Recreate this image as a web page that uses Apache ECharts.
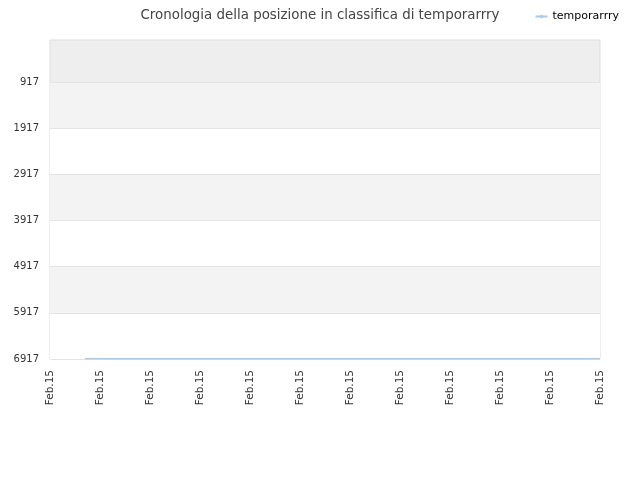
<!DOCTYPE html>
<html lang="it">
<head>
    <meta charset="utf-8">
    <title>ECharts</title>
    <script src="https://cdn.jsdelivr.net/npm/echarts@6/dist/echarts.min.js"></script>
</head>
<body style="margin:0">
<div id="main" style="width: 640px;height:480px;"></div>
<script type="text/javascript">
    // posizioni in classifica (asse y invertito)
    var yTicks = [917, 1917, 2917, 3917, 4917, 5917, 6917];
    // giorni sull'asse x
    var xTicks = [0, 1, 2, 3, 4, 5, 6, 7, 8, 9, 10, 11];
    var xLabel = 'Feb.15';
    var dayPos = [0.7, 1, 2, 3, 4, 5, 6, 7, 8, 9, 10, 11];
    var rank = [6912, 6912, 6912, 6912, 6912, 6912, 6912, 6912, 6912, 6912, 6912, 6912];

    var points = [];
    for (var i = 0; i < dayPos.length; i++) {
        points.push([dayPos[i], rank[i]]);
    }

    var myChart = echarts.init(document.getElementById('main'));
    var option = {
        animation: false,
        textStyle: { fontFamily: 'DejaVu Sans' },
        title: {
            text: 'Cronologia della posizione in classifica di temporarrry',
            left: 'center',
            top: 4,
            textStyle: { fontSize: 13.4, fontWeight: 'normal', color: '#444' }
        },
        legend: {
            right: 16,
            top: 6,
            itemWidth: 12,
            itemHeight: 2,
            itemGap: 8,
            textStyle: { fontSize: 11, color: '#000' },
            data: ['temporarrry']
        },
        grid: {
            left: 50,
            right: 40,
            top: 40,
            bottom: 121,
            show: true,
            backgroundColor: '#eeeeee',
            borderColor: '#dddddd',
            borderWidth: 1
        },
        xAxis: {
            type: 'value',
            min: xTicks[0],
            max: xTicks[xTicks.length - 1],
            interval: 1,
            axisLine: { show: false },
            axisTick: { show: false },
            splitLine: { show: false },
            axisLabel: {
                rotate: 90,
                fontSize: 10.5,
                color: '#333',
                margin: 11,
                formatter: function () { return xLabel; }
            }
        },
        yAxis: {
            type: 'value',
            inverse: true,
            min: 7,
            max: 6917,
            axisLine: { show: false },
            axisTick: { show: false, customValues: yTicks },
            axisLabel: {
                customValues: yTicks,
                fontSize: 10,
                color: '#333',
                margin: 11,
                formatter: function (v) { return String(v); }
            },
            splitLine: { show: true, lineStyle: { color: '#e4e4e4' } },
            splitArea: { show: true, areaStyle: { color: ['#f3f3f3', '#ffffff'] } }
        },
        series: [{
            name: 'temporarrry',
            type: 'line',
            data: points,
            showSymbol: false,
            lineStyle: { color: '#a9c8ec', width: 1.5 },
            itemStyle: { color: '#a9c8ec' }
        }]
    };
    myChart.setOption(option);
</script>
</body>
</html>
